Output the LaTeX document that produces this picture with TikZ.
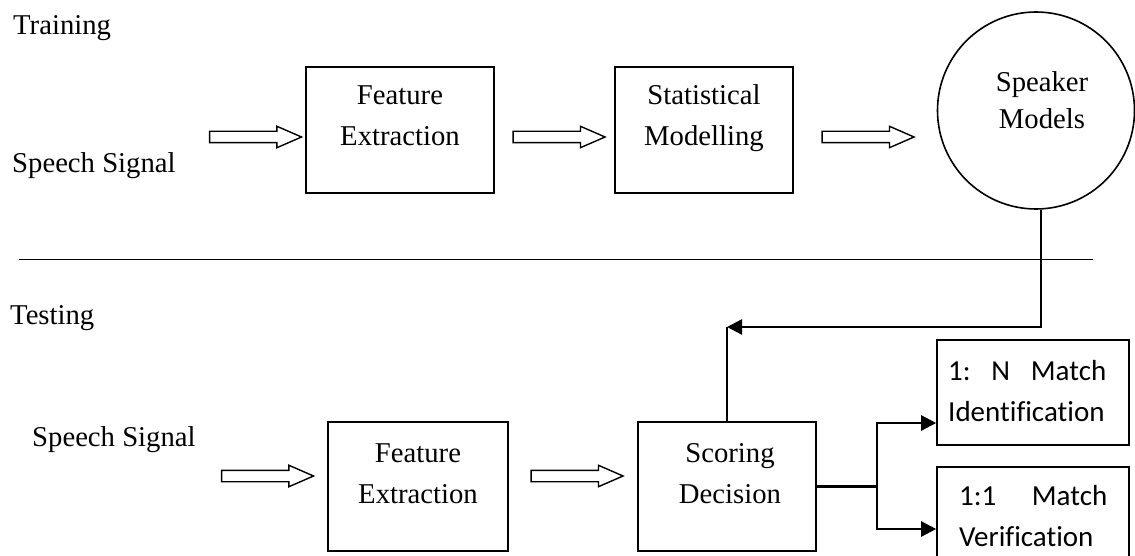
\documentclass[tikz,border=0pt]{standalone}
\usepackage{fontspec}
\setmainfont{Liberation Serif}
\newfontfamily\calib[Ligatures=NoCommon]{Carlito}
\usetikzlibrary{shapes.arrows,arrows.meta}
\tikzset{
  blk/.style={draw, line width=1.6pt, rectangle, inner sep=0pt},
  lbl/.style={inner sep=0pt, anchor=base, font=\fontsize{28.7}{41}\selectfont},
  sanslbl/.style={inner sep=0pt, anchor=base west, font=\calib\fontsize{29}{41}\selectfont},
  hollow/.style={single arrow, draw, line width=1.4pt, inner xsep=0pt, inner ysep=5pt,
    single arrow head extend=5pt, single arrow tip angle=47, minimum height=92pt},
  conn/.style={line width=2.4pt},
  tri/.style={-{Triangle[length=15pt,width=15pt]}},
  sep/.style={line width=1.6pt}
}
\begin{document}
\begin{tikzpicture}[x=1pt,y=-1pt]
\useasboundingbox (0,0) rectangle (1135,556);
% plain labels
\node[lbl, anchor=base west] (train) at (13,35) {Training};
\node[lbl, anchor=base west] (ss1) at (12,173) {Speech Signal};
\node[lbl, anchor=base west] (test) at (10,324) {Testing};
\node[lbl, anchor=base west] (ss2) at (32,446) {Speech Signal};
% training row
\node[blk, minimum width=188pt, minimum height=126pt] (fe1) at (400,130) {};
\node[lbl] (fe1t) at (400,105) {\begin{tabular}[t]{@{}c@{}}Feature\\Extraction\end{tabular}};
\node[blk, minimum width=178pt, minimum height=126pt] (stm) at (704,130) {};
\node[lbl] (stmt) at (704,105) {\begin{tabular}[t]{@{}c@{}}Statistical\\Modelling\end{tabular}};
\node[draw, circle, line width=1.6pt, minimum size=197pt, inner sep=0pt] (spk) at (1036,110.5) {};
\node[lbl, font=\fontsize{28.7}{37}\selectfont] (spkt) at (1042,92) {\begin{tabular}[t]{@{}c@{}}Speaker\\Models\end{tabular}};
\node[hollow] (a1) at (249,137) {};
\node[hollow] (a2) at (552.5,137) {};
\node[hollow] (a3) at (861.5,137) {};
% separator
\coordinate (sepL) at (19,259.5);
\coordinate (sepR) at (1093,259.5);
\draw[sep] (sepL) -- (sepR);
% testing row
\node[blk, minimum width=180pt, minimum height=129pt] (fe2) at (418,486.5) {};
\node[lbl] (fe2t) at (418,462) {\begin{tabular}[t]{@{}c@{}}Feature\\Extraction\end{tabular}};
\node[blk, minimum width=178pt, minimum height=129pt] (sd) at (727,486.5) {};
\node[lbl] (sdt) at (730,462) {\begin{tabular}[t]{@{}c@{}}Scoring\\Decision\end{tabular}};
\node[hollow] (a4) at (261,476) {};
\node[hollow] (a5) at (570.5,476) {};
\node[blk, minimum width=192pt, minimum height=105pt] (mN) at (1033,392.5) {};
\node[sanslbl] (mNt) at (948,380) {\begin{tabular}[t]{@{}l@{}}\makebox[158pt][l]{1:\hfill N\hfill Match}\\Identification\end{tabular}};
\node[blk, minimum width=192pt, minimum height=103pt] (m1) at (1033,518.5) {};
\node[sanslbl] (m1t) at (959,505) {\begin{tabular}[t]{@{}l@{}}\makebox[148pt][l]{1:1\hfill Match}\\Verification\end{tabular}};
% feedback connector
\coordinate (fbL) at (727,327);
\draw[conn, tri] (spk.-87) |- (fbL);
\draw[conn] (sd.north) -- (fbL);
% branch to outputs
\coordinate (br) at (877,486.5);
\draw[conn] (sd.east) -- (br);
\draw[conn, tri] (br) |- ([yshift=-30.5pt]mN.west);
\draw[conn, tri] (br) |- ([yshift=-10.5pt]m1.west);
\end{tikzpicture}
\end{document}
